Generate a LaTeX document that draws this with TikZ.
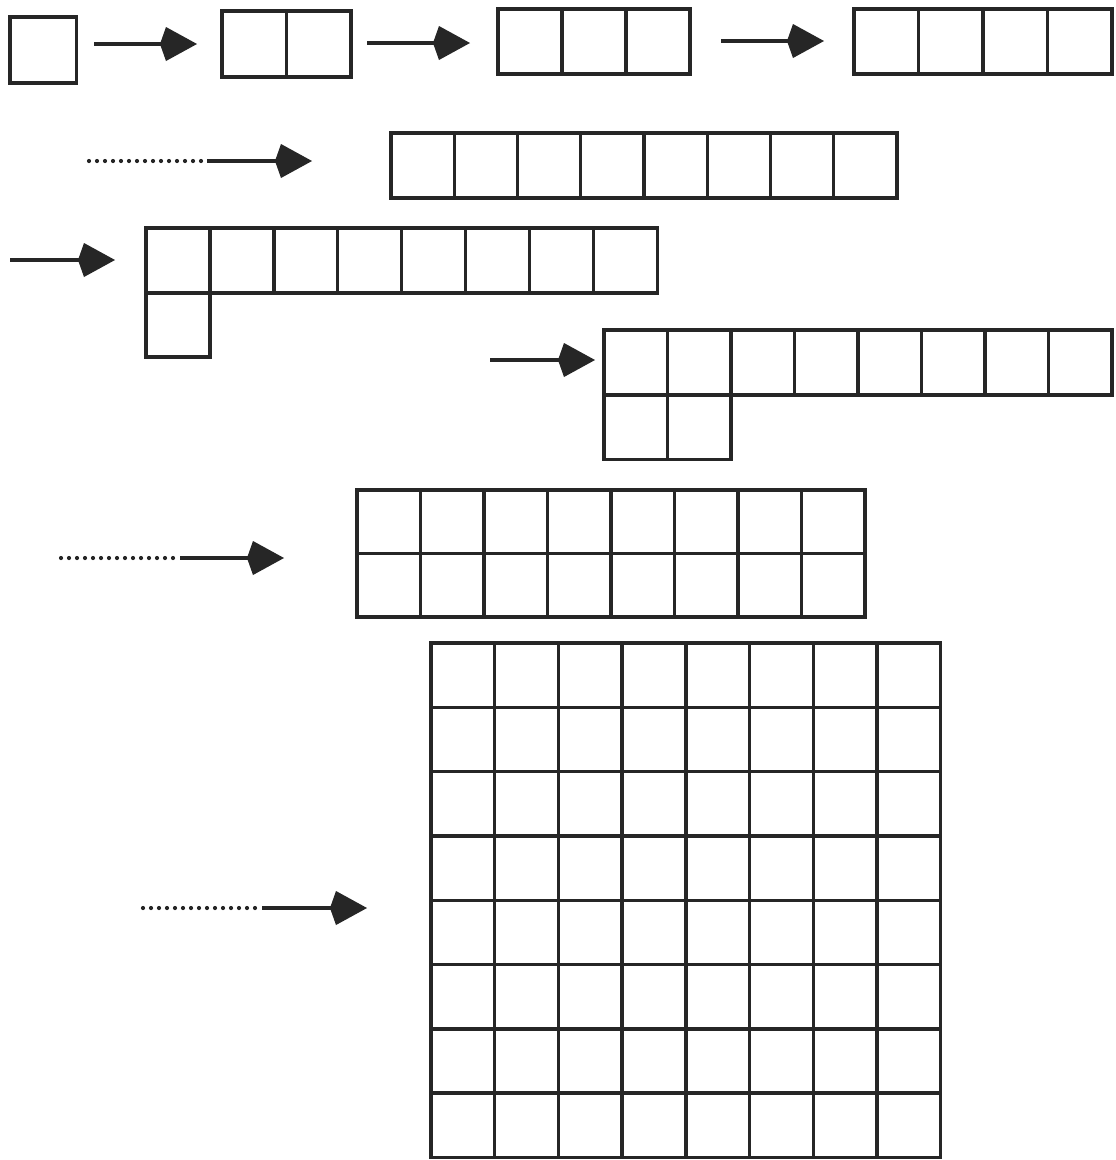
\documentclass[tikz,border=0pt]{standalone}
\usetikzlibrary{arrows.meta}
\definecolor{ink}{RGB}{38,38,38}
\newcommand\cellgrid[6]{%
  \foreach \ci in {1,...,#5}{\foreach \cj in {1,...,#6}{%
    \draw[cell] ({#1+(\ci-1)*#3},{#2+(\cj-1)*#4}) rectangle ++(#3,#4);}}}
\tikzset{
  cell/.style={draw=ink,line width=3.4pt,line join=miter},
  shaft/.style={draw=ink,line width=3.2pt,-{Kite[length=37pt,width=34pt,inset=6pt]},fill=ink},
  dotline/.style={draw=ink,line width=4.2pt,dash pattern=on 0pt off 8pt,line cap=round},
}
\begin{document}
\begin{tikzpicture}[x=1pt,y=-1pt]
\useasboundingbox (0,0) rectangle (1116,1160);
\fill[white] (0,0) rectangle (1116,1160);
% grids
\coordinate (g1) at (10,17);
\cellgrid{10}{17}{66.5}{66}{1}{1}
\coordinate (g2) at (222,11);
\cellgrid{222}{11}{64.5}{66}{2}{1}
\coordinate (g3) at (498,9);
\cellgrid{498}{9}{64}{65}{3}{1}
\coordinate (g4) at (854,9);
\cellgrid{854}{9}{64.5}{65}{4}{1}
\coordinate (g5) at (391,133);
\cellgrid{391}{133}{63.25}{65}{8}{1}
\coordinate (g6) at (146,228);
\cellgrid{146}{228}{63.9}{65}{8}{1}
\cellgrid{146}{293}{63.9}{64}{1}{1}
\coordinate (g7) at (604,330);
\cellgrid{604}{330}{63.5}{65}{8}{1}
\cellgrid{604}{395}{63.5}{64.5}{2}{1}
\coordinate (g8) at (357,490);
\cellgrid{357}{490}{63.5}{63.5}{8}{2}
\coordinate (g9) at (431,643);
\cellgrid{431}{643}{63.7}{64.3}{8}{8}
% arrow coordinates
\coordinate (a1s) at (94,44);   \coordinate (a1e) at (197,44);
\coordinate (a2s) at (367,43);  \coordinate (a2e) at (470,43);
\coordinate (a3s) at (721,41);  \coordinate (a3e) at (824,41);
\coordinate (a4d) at (89,161);  \coordinate (a4s) at (207,161); \coordinate (a4e) at (312,161);
\coordinate (a5s) at (10,260);  \coordinate (a5e) at (115,260);
\coordinate (a6s) at (490,360); \coordinate (a6e) at (595,360);
\coordinate (a7d) at (61,558);  \coordinate (a7s) at (180,558); \coordinate (a7e) at (284,558);
\coordinate (a8d) at (143,908); \coordinate (a8s) at (262,908); \coordinate (a8e) at (367,908);
% arrows
\draw[shaft] (a1s) -- (a1e);
\draw[shaft] (a2s) -- (a2e);
\draw[shaft] (a3s) -- (a3e);
\draw[dotline] (a4d) -- ([xshift=-4pt]a4s);
\draw[shaft] (a4s) -- (a4e);
\draw[shaft] (a5s) -- (a5e);
\draw[shaft] (a6s) -- (a6e);
\draw[dotline] (a7d) -- ([xshift=-4pt]a7s);
\draw[shaft] (a7s) -- (a7e);
\draw[dotline] (a8d) -- ([xshift=-4pt]a8s);
\draw[shaft] (a8s) -- (a8e);
\end{tikzpicture}
\end{document}
